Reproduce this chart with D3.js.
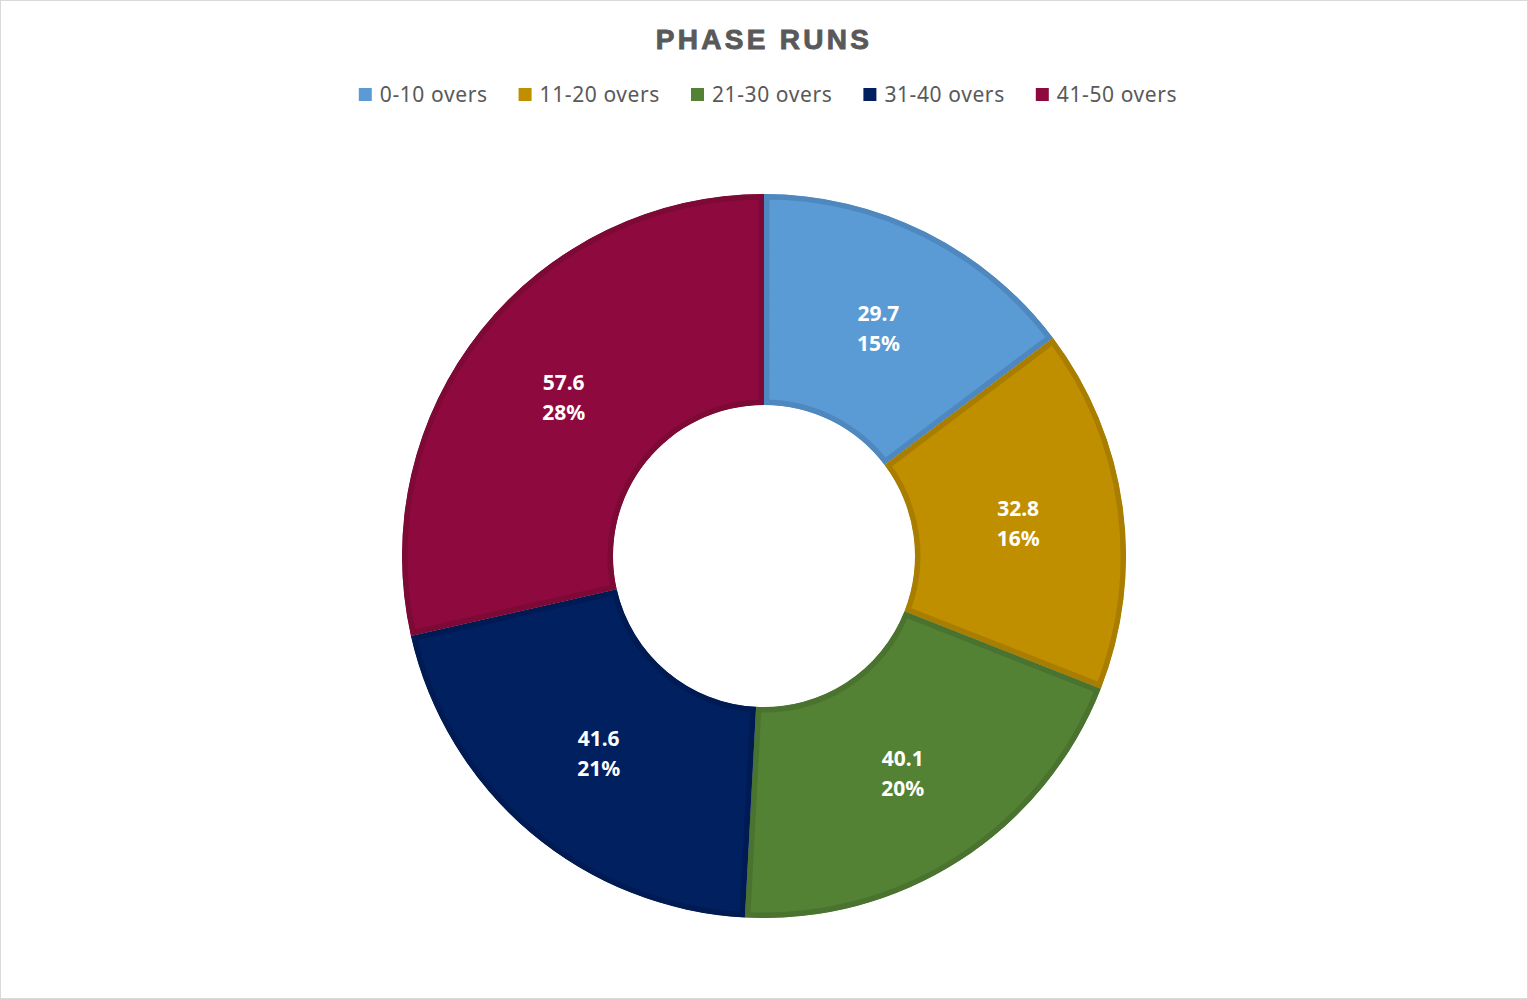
<!DOCTYPE html>
<html><head><meta charset="utf-8">
<script src="https://cdn.jsdelivr.net/npm/d3@7"></script>
<style>
html,body{margin:0;padding:0;background:#fff;}
svg{display:block;}
</style></head>
<body>
<svg id="chart" width="1528" height="999"></svg>
<script>
const categories = ["0-10 overs","11-20 overs","21-30 overs","31-40 overs","41-50 overs"];
const values = [29.7, 32.8, 40.1, 41.6, 57.6];
const percentLabels = ["15%","16%","20%","21%","28%"];
const fills = ["#5B9BD5","#BF8F00","#548235","#002060","#8E0A3E"];
const strokes = ["#4E88BF","#A97E00","#4A7330","#001B54","#7C0936"];

const svg = d3.select("#chart");
const W = 1528, H = 999;
svg.append("rect").attr("x",0.5).attr("y",0.5).attr("width",W-1).attr("height",H-1)
  .attr("fill","#fff").attr("stroke","#D9D9D9");

svg.append("text").attr("x",764).attr("y",49).attr("text-anchor","middle")
  .attr("font-family","Liberation Sans, Arial, sans-serif").attr("font-weight","bold")
  .attr("font-size",28).attr("letter-spacing",3.3).attr("fill","#595959")
  .attr("stroke","#595959").attr("stroke-width",0.9).text("PHASE RUNS");

// legend
const lg = svg.append("g");
let x = 0;
categories.forEach((c,i)=>{
  const g = lg.append("g");
  g.append("rect").attr("x",0).attr("y",-7).attr("width",13).attr("height",13).attr("fill",fills[i]);
  const t = g.append("text").attr("x",21).attr("y",0).attr("dy","0.35em")
    .attr("font-family","Noto Sans, Open Sans, sans-serif").attr("font-size",21)
    .attr("letter-spacing",0.6).attr("fill","#595959").text(c);
  const w = 21 + t.node().getComputedTextLength();
  g.attr("transform",`translate(${x},0)`);
  x += w + 31;
});
const total = x - 31;
lg.attr("transform",`translate(${768 - total/2},95)`);

// donut
const cx = 764, cy = 556, R = 362, r0 = 151;
const pie = d3.pie().sort(null).value(d=>d)(values);
const arc = d3.arc().innerRadius(r0).outerRadius(R);
const g = svg.append("g").attr("transform",`translate(${cx},${cy})`);
const defs = svg.append("defs");
pie.forEach((p,i)=>{
  defs.append("clipPath").attr("id","clip"+i).append("path").attr("d",arc(p));
  g.append("path").attr("d",arc(p)).attr("fill",fills[i])
    .attr("stroke",strokes[i]).attr("stroke-width",11).attr("stroke-linejoin","miter")
    .attr("clip-path",`url(#clip${i})`);
});
pie.forEach((p,i)=>{
  const [lx,ly] = arc.centroid(p);
  const t = g.append("text").attr("x",lx).attr("y",ly).attr("text-anchor","middle")
    .attr("font-family","Noto Sans, Open Sans, sans-serif").attr("font-weight","bold")
    .attr("font-size",21).attr("fill","#fff");
  t.append("tspan").attr("x",lx).attr("y",ly-13).attr("dy","0.35em").text(values[i].toFixed(1));
  t.append("tspan").attr("x",lx).attr("y",ly+17).attr("dy","0.35em").text(percentLabels[i]);
});
</script>
</body></html>
